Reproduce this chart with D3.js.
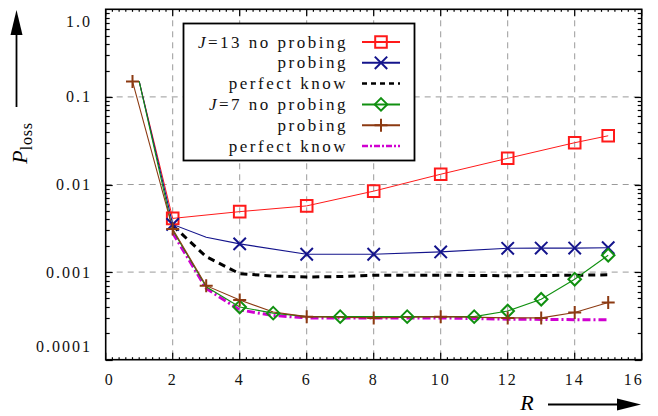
<!DOCTYPE html>
<html>
<head>
<meta charset="utf-8">
<script src="https://cdn.jsdelivr.net/npm/d3@7"></script>
<style>
  html, body { margin: 0; padding: 0; background: #fff; }
</style>
</head>
<body>
<svg id="chart" width="658" height="416"></svg>
<script>
// ---- data ----
const xTicks = [0, 2, 4, 6, 8, 10, 12, 14, 16];
const yTicks = [1, 0.1, 0.01, 0.001, 0.0001];
const yTickLabels = ["1.0", "0.1", "0.01", "0.001", "0.0001"];

// J = 13, no probing
const j13NoR = [1, 2, 4, 6, 8, 10, 12, 14, 15];
const j13NoP = [0.15, 0.0041, 0.0049, 0.0057, 0.0084, 0.0131, 0.0199, 0.030, 0.036];
const j13NoMarks = [2, 4, 6, 8, 10, 12, 14, 15];

// J = 13, probing
const j13ProbR = [1, 2, 3, 4, 6, 8, 10, 12, 13, 14, 15];
const j13ProbP = [0.15, 0.0035, 0.0025, 0.0021, 0.0016, 0.0016, 0.0017, 0.00187, 0.00188, 0.00188, 0.0019];
const j13ProbMarks = [2, 4, 6, 8, 10, 12, 13, 14, 15];

// J = 13, perfect knowledge
const j13PerfR = [2, 3, 4, 5, 6, 7, 8, 10, 12, 14, 15];
const j13PerfP = [0.0034, 0.0015, 0.00096, 0.0009, 0.00088, 0.00089, 0.00092, 0.00092, 0.00091, 0.00092, 0.00093];

// J = 7, no probing
const j7NoR = [1, 2, 3, 4, 5, 6, 7, 9, 11, 12, 13, 14, 15];
const j7NoP = [0.15, 0.003, 0.00068, 0.0004, 0.00034, 0.00031, 0.00031, 0.00031, 0.00031, 0.00036, 0.00049, 0.00083, 0.00156];
const j7NoMarks = [4, 5, 7, 9, 11, 12, 13, 14, 15];

// J = 7, probing
const j7ProbR = [0.8, 2, 3, 4, 5, 6, 8, 10, 12, 13, 14, 15];
const j7ProbP = [0.15, 0.0031, 0.0007, 0.00048, 0.00035, 0.00031, 0.0003, 0.00031, 0.0003, 0.0003, 0.000345, 0.00045];
const j7ProbMarks = [0.8, 2, 3, 4, 6, 8, 10, 12, 13, 14, 15];

// J = 7, perfect knowledge
const j7PerfR = [2, 3, 4, 5, 6, 8, 10, 12, 15];
const j7PerfP = [0.0028, 0.00065, 0.00037, 0.00032, 0.0003, 0.0003, 0.0003, 0.00029, 0.000285];

// ---- layout ----
const FONT = "Liberation Serif";
const svg = d3.select("#chart");
const L = 105.7, Rt = 641.7, T = 9.3, B = 359.7;
const x = d3.scaleLinear().domain([0, 16]).range([L, Rt]);
const y = d3.scaleLog().domain([1e-4, 1]).range([B, T]);

// grid
const grid = svg.append("g").attr("stroke", "#9a9a9a").attr("stroke-width", 1).attr("stroke-dasharray", "6,5");
xTicks.filter(v => v > 0 && v < 16).forEach(v => {
  grid.append("line").attr("x1", x(v)).attr("x2", x(v)).attr("y1", T).attr("y2", B);
});
yTicks.filter(v => v > 1e-4 && v < 1).forEach(v => {
  grid.append("line").attr("x1", L).attr("x2", Rt).attr("y1", y(v)).attr("y2", y(v));
});

// axis ticks (inward on all four sides)
const tk = svg.append("g").attr("stroke", "#000").attr("stroke-width", 1.2);
for (let e = -4; e < 0; e++) {
  for (let m = 1; m <= 9; m++) {
    const v = m * Math.pow(10, e);
    const len = m === 1 ? 7 : 4;
    const yy = Math.round(y(v)) + 0.5;
    tk.append("line").attr("x1", L).attr("x2", L + len).attr("y1", yy).attr("y2", yy);
    tk.append("line").attr("x1", Rt).attr("x2", Rt - len).attr("y1", yy).attr("y2", yy);
  }
}
for (let i = 0; i <= 80; i++) {
  const v = i * 0.2;
  const major = i % 10 === 0;
  const len = major ? 7 : 2.5;
  const xx = x(v);
  tk.append("line").attr("x1", xx).attr("x2", xx).attr("y1", B).attr("y2", B - len);
  tk.append("line").attr("x1", xx).attr("x2", xx).attr("y1", T).attr("y2", T + len);
}

// series definitions
const series = [
  { R: j13NoR, P: j13NoP, marks: j13NoMarks, color: "#ff1a1a", width: 1, dash: null, marker: "square" },
  { R: j13ProbR, P: j13ProbP, marks: j13ProbMarks, color: "#14148c", width: 1.1, dash: null, marker: "cross" },
  { R: j13PerfR, P: j13PerfP, marks: [], color: "#000", width: 3, dash: "7,5", marker: null },
  { R: j7PerfR, P: j7PerfP, marks: [], color: "#d000d0", width: 3, dash: "8,3,2,3", marker: null },
  { R: j7NoR, P: j7NoP, marks: j7NoMarks, color: "#109010", width: 1.1, dash: null, marker: "diamond" },
  { R: j7ProbR, P: j7ProbP, marks: j7ProbMarks, color: "#8c3a12", width: 1.1, dash: null, marker: "plus" }
];

const line = d3.line().x(d => x(d[0])).y(d => y(d[1]));
const plot = svg.append("g");
series.forEach(s => {
  plot.append("path")
    .attr("d", line(d3.zip(s.R, s.P)))
    .attr("fill", "none")
    .attr("stroke", s.color)
    .attr("stroke-width", s.width)
    .attr("stroke-dasharray", s.dash);
});

function markerPath(kind, h) {
  if (kind === "square") return `M${-h},${-h}H${h}V${h}H${-h}Z`;
  if (kind === "cross") return `M${-h},${-h}L${h},${h}M${-h},${h}L${h},${-h}`;
  if (kind === "diamond") return `M0,${-h}L${h},0L0,${h}L${-h},0Z`;
  if (kind === "plus") return `M${-h},0H${h}M0,${-h}V${h}`;
  return "";
}
const markerSize = { square: 5.8, cross: 6.2, diamond: 6.3, plus: 6.5 };

series.forEach(s => {
  if (!s.marker) return;
  s.marks.forEach(r => {
    const i = s.R.indexOf(r);
    plot.append("path")
      .attr("d", markerPath(s.marker, markerSize[s.marker]))
      .attr("transform", `translate(${x(r)},${y(s.P[i])})`)
      .attr("fill", "none")
      .attr("stroke", s.color)
      .attr("stroke-width", 2);
  });
});

// frame
svg.append("rect").attr("x", L).attr("y", T).attr("width", Rt - L).attr("height", B - T)
  .attr("fill", "none").attr("stroke", "#000").attr("stroke-width", 1.6);

// tick labels
const tl = svg.append("g");
function label(g) {
  return g.append("text").attr("font-family", FONT).attr("font-size", 16)
    .attr("letter-spacing", 2).attr("fill", "#111");
}
xTicks.forEach(v => {
  let xx = x(v), anchor = "middle";
  if (v === 0) { xx = x(v) - 1; anchor = "start"; }
  if (v === 16) { xx = x(v) + 2; anchor = "end"; }
  label(tl).attr("x", xx).attr("y", 385).attr("text-anchor", anchor).text(String(v));
});
yTicks.forEach((v, i) => {
  let yy = y(v) + 5.5;
  if (v === 1) yy = y(v) + 18;
  if (v === 1e-4) yy = y(v) - 8;
  label(tl).attr("x", 92).attr("y", yy).attr("text-anchor", "end").text(yTickLabels[i]);
});

// axis titles with arrows
svg.append("text").attr("x", 527).attr("y", 410).attr("text-anchor", "middle")
  .attr("font-family", FONT).attr("font-size", 22).attr("font-style", "italic").text("R");
svg.append("line").attr("x1", 548).attr("x2", 620).attr("y1", 404.5).attr("y2", 404.5)
  .attr("stroke", "#000").attr("stroke-width", 1.8);
svg.append("path").attr("d", "M617,398.5L641,404.5L617,410.5Z").attr("fill", "#000");

const yl = svg.append("text").attr("transform", "translate(27,143) rotate(-90)")
  .attr("font-family", FONT).attr("text-anchor", "middle").attr("font-size", 22);
yl.append("tspan").attr("font-style", "italic").text("P");
yl.append("tspan").attr("dy", 5).attr("font-size", 16).attr("letter-spacing", 0.8).text("loss");
svg.append("line").attr("x1", 16.5).attr("x2", 16.5).attr("y1", 107).attr("y2", 32)
  .attr("stroke", "#000").attr("stroke-width", 1.8);
svg.append("path").attr("d", "M10.5,35L16.5,10L22.5,35Z").attr("fill", "#000");

// legend
const legendRows = [
  { j: "13", label: "no probing", s: series[0] },
  { j: null, label: "probing", s: series[1] },
  { j: null, label: "perfect know", s: series[2] },
  { j: "7", label: "no probing", s: series[4] },
  { j: null, label: "probing", s: series[5] },
  { j: null, label: "perfect know", s: series[3] }
];
const lg = svg.append("g");
lg.append("rect").attr("x", 183.5).attr("y", 23.5).attr("width", 231).attr("height", 137)
  .attr("fill", "#fff").attr("stroke", "#000").attr("stroke-width", 1.8);
legendRows.forEach((r, i) => {
  const cy = 42 + i * 20.8;
  const t = label(lg).attr("x", 348).attr("y", cy + 5.5).attr("text-anchor", "end")
    .attr("font-size", 17).attr("letter-spacing", 2.5);
  if (r.j) {
    t.append("tspan").attr("font-style", "italic").text("J");
    t.append("tspan").text("=" + r.j + " " + r.label);
  } else {
    t.text(r.label);
  }
  lg.append("line").attr("x1", 362).attr("x2", 400).attr("y1", cy).attr("y2", cy)
    .attr("stroke", r.s.color).attr("stroke-width", r.s.dash ? 2.5 : 2)
    .attr("stroke-dasharray", r.s.dash ? (r.s.color === "#000" ? "5,4" : "6,2,2,2") : null);
  if (r.s.marker) {
    lg.append("path").attr("d", markerPath(r.s.marker, markerSize[r.s.marker]))
      .attr("transform", `translate(381,${cy})`)
      .attr("fill", "none").attr("stroke", r.s.color).attr("stroke-width", 2);
  }
});
</script>
</body>
</html>
